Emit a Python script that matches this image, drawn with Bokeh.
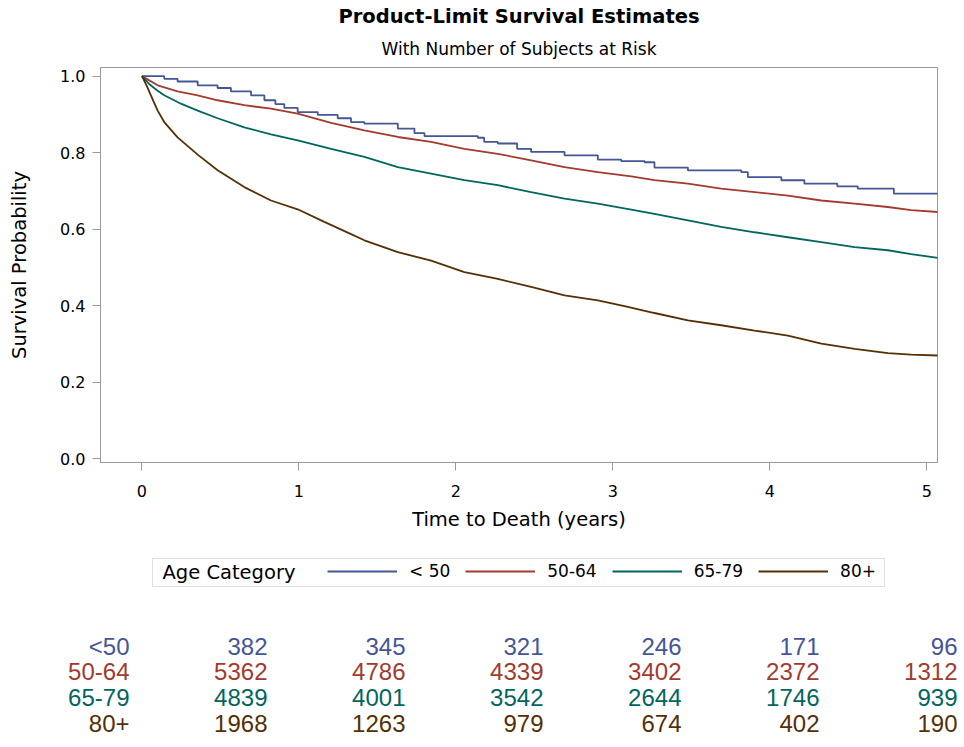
from bokeh.plotting import figure
from bokeh.models import (Range1d, FixedTicker, Title, Legend, LegendItem,
                          ColumnDataSource, NumeralTickFormatter, BoxAnnotation)
from bokeh.layouts import column
from bokeh.embed import file_html
from bokeh.resources import INLINE
from bokeh.core.properties import value

# ---------------- data ----------------
groups = ["< 50", "50-64", "65-79", "80+"]
table_labels = ["<50", "50-64", "65-79", "80+"]
colors = ["#445694", "#A23A2E", "#01665E", "#543005"]

t_lt50 = [0, 0.142, 0.227, 0.355, 0.482, 0.567, 0.695, 0.78, 0.85, 0.907, 0.992, 1.12,
          1.247, 1.332, 1.417, 1.63, 1.736, 1.80, 2.14, 2.18, 2.267, 2.39, 2.479, 2.692,
          2.904, 3.053, 3.202, 3.265, 3.478, 3.818, 3.86, 4.073, 4.22, 4.43, 4.56, 4.79, 5.07]
s_lt50 = [1.0, 0.993, 0.986, 0.976, 0.969, 0.960, 0.950, 0.937, 0.927, 0.917, 0.906, 0.899,
          0.890, 0.880, 0.876, 0.863, 0.851, 0.843, 0.839, 0.828, 0.824, 0.810, 0.802, 0.793,
          0.782, 0.778, 0.775, 0.761, 0.754, 0.749, 0.736, 0.728, 0.719, 0.712, 0.706, 0.693, 0.693]

t_50_64 = [0, 0.1, 0.227, 0.355, 0.482, 0.652, 0.822, 0.992, 1.205, 1.417, 1.63, 1.842, 2.054,
           2.267, 2.479, 2.692, 2.904, 3.117, 3.265, 3.478, 3.69, 3.903, 4.115, 4.328, 4.54,
           4.752, 4.9, 5.07]
s_50_64 = [1.0, 0.976, 0.960, 0.950, 0.937, 0.924, 0.915, 0.902, 0.878, 0.858, 0.841, 0.828,
           0.810, 0.797, 0.780, 0.762, 0.749, 0.738, 0.728, 0.719, 0.706, 0.697, 0.688, 0.675,
           0.667, 0.658, 0.650, 0.645]

t_65_79 = [0, 0.05, 0.1, 0.142, 0.248, 0.355, 0.482, 0.652, 0.822, 0.992, 1.205, 1.417, 1.63,
           1.842, 2.054, 2.267, 2.479, 2.692, 2.904, 3.117, 3.265, 3.478, 3.69, 3.903, 4.115,
           4.328, 4.54, 4.752, 4.9, 5.07]
s_65_79 = [1.0, 0.978, 0.962, 0.950, 0.928, 0.910, 0.890, 0.866, 0.848, 0.832, 0.810, 0.789,
           0.762, 0.745, 0.728, 0.715, 0.697, 0.680, 0.667, 0.651, 0.640, 0.623, 0.606, 0.592,
           0.579, 0.566, 0.553, 0.545, 0.535, 0.525]

t_80p = [0, 0.03, 0.057, 0.1, 0.142, 0.227, 0.355, 0.482, 0.652, 0.822, 0.992, 1.162, 1.332,
         1.417, 1.63, 1.842, 2.054, 2.267, 2.479, 2.692, 2.904, 3.074, 3.265, 3.478, 3.69,
         3.903, 4.115, 4.328, 4.54, 4.752, 4.9, 5.07]
s_80p = [1.0, 0.975, 0.950, 0.910, 0.880, 0.840, 0.795, 0.754, 0.710, 0.675, 0.652, 0.619,
         0.587, 0.571, 0.540, 0.518, 0.488, 0.470, 0.449, 0.427, 0.414, 0.399, 0.381, 0.362,
         0.349, 0.335, 0.322, 0.301, 0.287, 0.276, 0.272, 0.270]

at_risk_times = [0, 1, 2, 3, 4, 5]
at_risk_lt50 = [382, 345, 321, 246, 171, 96]
at_risk_50_64 = [5362, 4786, 4339, 3402, 2372, 1312]
at_risk_65_79 = [4839, 4001, 3542, 2644, 1746, 939]
at_risk_80p = [1968, 1263, 979, 674, 402, 190]

x_ticks = [0, 1, 2, 3, 4, 5]
y_ticks = [0.0, 0.2, 0.4, 0.6, 0.8, 1.0]

title_text = "Product-Limit Survival Estimates"
subtitle_text = "With Number of Subjects at Risk"
x_label = "Time to Death (years)"
y_label = "Survival Probability"
legend_title = "Age Category"

# ---------------- styles / layout ----------------
FONT = "DejaVu Sans"
GRAY = "#9a9a9a"
W = 960
H_MAIN = 548
H_BOTTOM = 197
NAN = float("nan")

p = figure(width=W, height=H_MAIN, x_range=Range1d(-0.264, 5.068),
           y_range=Range1d(-0.0097, 1.0226), output_backend="svg",
           toolbar_location=None, min_border_left=100, min_border_right=23,
           min_border_top=67, min_border_bottom=86)
p.grid.visible = False
p.outline_line_color = GRAY
p.outline_line_width = 1
p.background_fill_color = "white"
p.border_fill_color = "white"

p.add_layout(Title(text=subtitle_text, align="center", text_font=FONT,
                   text_font_size="17px", text_font_style="normal",
                   text_color="black", standoff=18), "above")
p.add_layout(Title(text=title_text, align="center", text_font=FONT,
                   text_font_size="19.5px", text_font_style="bold",
                   text_color="black", standoff=0), "above")

for ax in (p.xaxis[0], p.yaxis[0]):
    ax.axis_line_color = GRAY
    ax.major_tick_line_color = GRAY
    ax.minor_tick_line_color = None
    ax.major_tick_out = 8
    ax.major_tick_in = 0
    ax.major_label_text_font = FONT
    ax.major_label_text_font_size = "16px"
    ax.major_label_text_color = "black"
    ax.axis_label_text_font = FONT
    ax.axis_label_text_font_size = "19.5px"
    ax.axis_label_text_font_style = "normal"
    ax.axis_label_text_color = "black"

p.xaxis.ticker = FixedTicker(ticks=x_ticks)
p.yaxis.ticker = FixedTicker(ticks=y_ticks)
p.yaxis.formatter = NumeralTickFormatter(format="0.0")
p.xaxis.axis_label = x_label
p.yaxis.axis_label = y_label
p.xaxis.major_label_standoff = 14
p.xaxis.axis_label_standoff = 8
p.yaxis.major_label_standoff = 7
p.yaxis.axis_label_standoff = 26

series = [(t_lt50, s_lt50), (t_50_64, s_50_64), (t_65_79, s_65_79), (t_80p, s_80p)]
for i, (t, s) in enumerate(series):
    if i == 0:
        p.step(t, s, mode="after", line_color=colors[i], line_width=1.8)
    else:
        p.line(t, s, line_color=colors[i], line_width=1.8)

# ---------------- legend + at-risk table (pixel coordinates) ----------------
q = figure(width=W, height=H_BOTTOM, x_range=Range1d(0, W),
           y_range=Range1d(H_BOTTOM, 0), output_backend="svg",
           toolbar_location=None, min_border=0)
q.axis.visible = False
q.grid.visible = False
q.outline_line_color = None
q.background_fill_color = "white"
q.border_fill_color = "white"

# legend box, title and entries
q.add_layout(BoxAnnotation(left=152, right=884, top=10, bottom=38, fill_color=None,
                           fill_alpha=0, line_color=GRAY, line_width=1))
q.text(x=[162], y=[24], text=[legend_title], text_align="left", text_baseline="middle",
       text_font=value(FONT), text_font_size="19.5px", text_color="black")
key_renderers = [q.line(x=[NAN], y=[NAN], line_color=c, line_width=1.8) for c in colors]
legend = Legend(items=[LegendItem(label=g, renderers=[r]) for g, r in zip(groups, key_renderers)],
                orientation="horizontal", location=(327, H_BOTTOM - 33),
                label_text_font=FONT, label_text_font_size="17px", label_text_color="black",
                glyph_width=70, glyph_height=18, label_height=18, label_standoff=12,
                spacing=15, padding=0, margin=0,
                border_line_color=None, background_fill_alpha=0)
q.add_layout(legend)

TFONT = value("Liberation Sans")
table_x0 = 267
col_step = 138
row_c0 = 97.7
row_step = 25.6
col_x = [table_x0 + col_step * t for t in at_risk_times]
row_y = [row_c0 + row_step * i for i in range(len(table_labels))]
q.text(x=[table_x0 - col_step] * len(table_labels), y=row_y, text=table_labels,
       text_color=colors, text_align="right", text_baseline="middle",
       text_font=TFONT, text_font_size="24px")
for i, counts in enumerate([at_risk_lt50, at_risk_50_64, at_risk_65_79, at_risk_80p]):
    src = ColumnDataSource(dict(x=col_x, y=[row_y[i]] * len(col_x),
                                txt=[str(n) for n in counts]))
    q.text(x="x", y="y", text="txt", source=src, text_color=colors[i],
           text_align="right", text_baseline="middle", text_font=TFONT,
           text_font_size="24px")

layout = column(p, column(q))
open("out.html", "w").write(file_html(layout, INLINE))
